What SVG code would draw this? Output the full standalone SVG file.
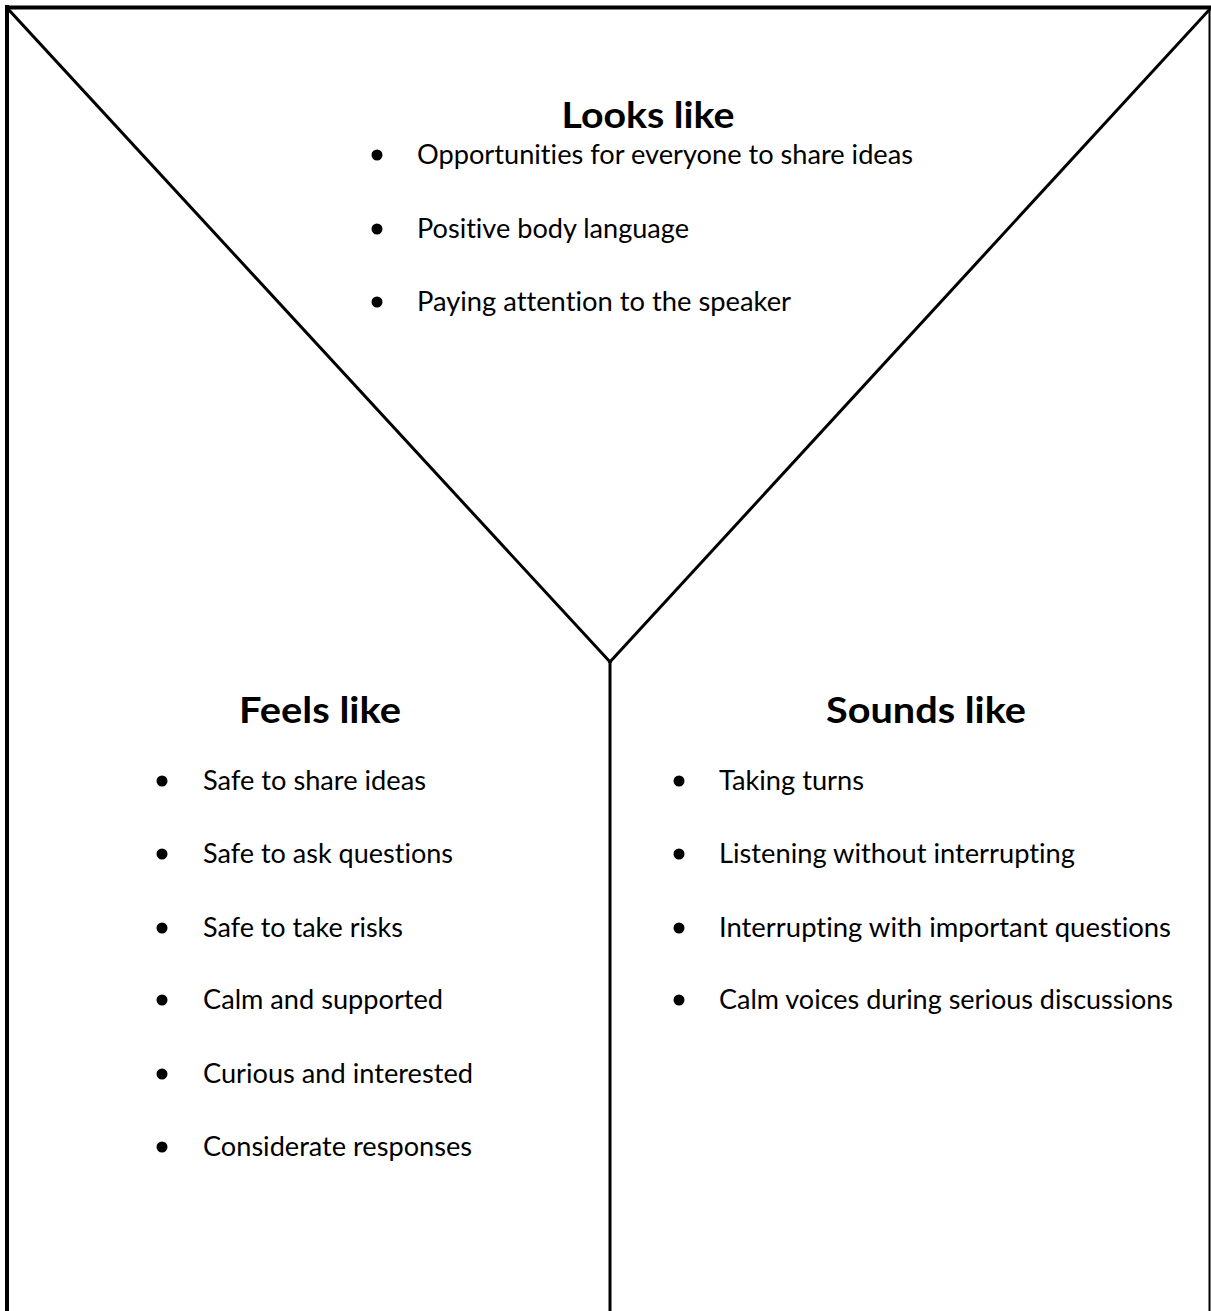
<svg xmlns="http://www.w3.org/2000/svg" width="1211" height="1311" viewBox="0 0 1211 1311">
<style>
.t{font-family:Lato,"Open Sans","Liberation Sans",sans-serif;font-size:26px;fill:#000;font-variant-ligatures:none;font-feature-settings:"liga" 0,"clig" 0}
.h{font-family:Lato,"Open Sans","Liberation Sans",sans-serif;font-size:37px;font-weight:bold;fill:#000;text-anchor:middle;font-variant-ligatures:none}
.b{fill:#000}
.ln{stroke:#000;fill:none;stroke-linecap:square}
</style>
<rect width="1211" height="1311" fill="#fff"/>
<g id="connectors">
<line class="ln" x1="7" y1="7.5" x2="1209" y2="7.5" stroke-width="4"/>
<line class="ln" x1="7" y1="7" x2="7" y2="1320" stroke-width="4"/>
<line class="ln" x1="1209.5" y1="7" x2="1209.5" y2="1320" stroke-width="2"/>
<line class="ln" x1="9" y1="10" x2="610" y2="662" stroke-width="3"/>
<line class="ln" x1="1209" y1="10" x2="610" y2="662" stroke-width="3"/>
<line class="ln" x1="610" y1="662" x2="610" y2="1320" stroke-width="3"/>
</g>
<g id="looks-like">
<text class="h" x="648" y="128" textLength="173" lengthAdjust="spacingAndGlyphs">Looks like</text>
<circle class="b" cx="377" cy="155" r="5.5"/>
<text class="t" x="417" y="164" textLength="496" lengthAdjust="spacingAndGlyphs">Opportunities for everyone to share ideas</text>
<circle class="b" cx="377" cy="229" r="5.5"/>
<text class="t" x="417" y="238" textLength="272" lengthAdjust="spacingAndGlyphs">Positive body language</text>
<circle class="b" cx="377" cy="302" r="5.5"/>
<text class="t" x="417" y="311" textLength="374" lengthAdjust="spacingAndGlyphs">Paying attention to the speaker</text>
</g>
<g id="feels-like">
<text class="h" x="320" y="723" textLength="162" lengthAdjust="spacingAndGlyphs">Feels like</text>
<circle class="b" cx="162" cy="781" r="5.5"/>
<text class="t" x="203" y="790" textLength="223" lengthAdjust="spacingAndGlyphs">Safe to share ideas</text>
<circle class="b" cx="162" cy="854" r="5.5"/>
<text class="t" x="203" y="863" textLength="250" lengthAdjust="spacingAndGlyphs">Safe to ask questions</text>
<circle class="b" cx="162" cy="928" r="5.5"/>
<text class="t" x="203" y="937" textLength="200" lengthAdjust="spacingAndGlyphs">Safe to take risks</text>
<circle class="b" cx="162" cy="1000" r="5.5"/>
<text class="t" x="203" y="1009" textLength="240" lengthAdjust="spacingAndGlyphs">Calm and supported</text>
<circle class="b" cx="162" cy="1074" r="5.5"/>
<text class="t" x="203" y="1083" textLength="270" lengthAdjust="spacingAndGlyphs">Curious and interested</text>
<circle class="b" cx="162" cy="1147" r="5.5"/>
<text class="t" x="203" y="1156" textLength="269" lengthAdjust="spacingAndGlyphs">Considerate responses</text>
</g>
<g id="sounds-like">
<text class="h" x="926" y="723" textLength="200" lengthAdjust="spacingAndGlyphs">Sounds like</text>
<circle class="b" cx="679" cy="781" r="5.5"/>
<text class="t" x="719" y="790" textLength="145" lengthAdjust="spacingAndGlyphs">Taking turns</text>
<circle class="b" cx="679" cy="854" r="5.5"/>
<text class="t" x="719" y="863" textLength="356" lengthAdjust="spacingAndGlyphs">Listening without interrupting</text>
<circle class="b" cx="679" cy="928" r="5.5"/>
<text class="t" x="719" y="937" textLength="452" lengthAdjust="spacingAndGlyphs">Interrupting with important questions</text>
<circle class="b" cx="679" cy="1000" r="5.5"/>
<text class="t" x="719" y="1009" textLength="454" lengthAdjust="spacingAndGlyphs">Calm voices during serious discussions</text>
</g>
</svg>
